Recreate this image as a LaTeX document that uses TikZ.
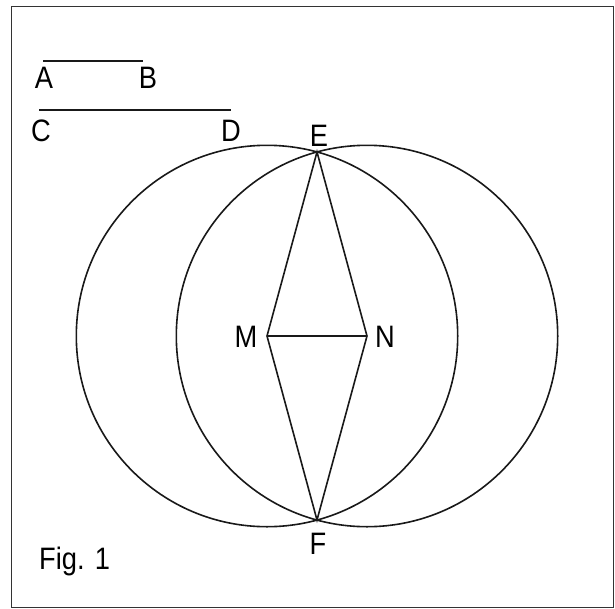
\documentclass[tikz,border=0pt]{standalone}
\usepackage{fontspec}
\setmainfont[FakeStretch=0.88]{Liberation Sans}
\begin{document}
\begin{tikzpicture}[x=1pt,y=-1pt,font=\fontsize{31}{36}\selectfont,
  seg/.style={line width=1.6pt,black!90},
  lbl/.style={inner sep=0pt}]
\useasboundingbox (0,0) rectangle (615,608);
\draw[black!80,line width=1pt] (11,6) rectangle (613.5,607.5);
% given lengths
\coordinate (A) at (43,61);
\coordinate (B) at (143,61);
\coordinate (C) at (39,110);
\coordinate (D) at (231,110);
\draw[seg] (A) -- (B);
\draw[seg] (C) -- (D);
\node[lbl] (labA) at (44,78) {A};
\node[lbl] (labB) at (148,78) {B};
\node[lbl] (labC) at (41,131) {C};
\node[lbl] (labD) at (231,131) {D};
% construction
\coordinate (M) at (267,336);
\coordinate (N) at (367,336);
\coordinate (E) at (317,152);
\coordinate (F) at (317,520);
\draw[seg] (M) circle (190.7pt);
\draw[seg] (N) circle (190.7pt);
\draw[seg] (E) -- (M) -- (F) -- (N) -- cycle;
\draw[seg] (M) -- (N);
\node[lbl] (labE) at (319,136) {E};
\node[lbl] (labM) at (246,337) {M};
\node[lbl] (labN) at (385,337) {N};
\node[lbl] (labF) at (318,544) {F};
\node[lbl,anchor=west] (fig) at (39,561) {Fig. 1};
\end{tikzpicture}
\end{document}
